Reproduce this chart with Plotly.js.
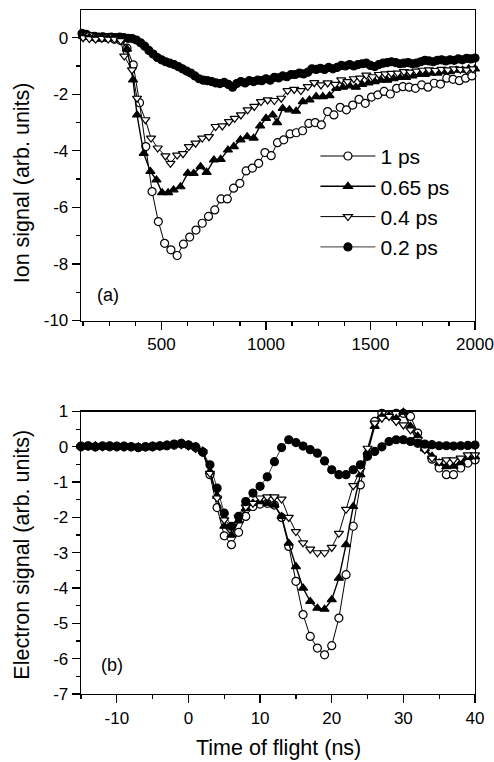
<!DOCTYPE html>
<html>
<head>
<meta charset="utf-8">
<script src="https://cdn.plot.ly/plotly-3.0.1.min.js"></script>
<style>html,body{margin:0;padding:0;background:#fff;}#chart{width:494px;height:762px;}</style>
</head>
<body>
<div id="chart"></div>
<script>
// ---------- Panel (a): ion signal vs time of flight ----------
const seriesNames = ["1 ps", "0.65 ps", "0.4 ps", "0.2 ps"];

const ionX_1ps = [125,155,185,215,245,275,305,335,365,395,425,455,485,515,545,575,605,635,665,695,725,755,785,815,845,875,905,935,965,995,1025,1055,1085,1115,1145,1175,1205,1235,1265,1295,1325,1355,1385,1415,1445,1475,1505,1535,1565,1595,1625,1655,1685,1715,1745,1775,1805,1835,1865,1895,1925,1955,1985];
const ionY_1ps = [0.05,0.05,0.0,0.0,0.0,-0.05,-0.1,-0.37,-0.96,-2.3,-3.85,-5.44,-6.5,-7.27,-7.5,-7.7,-7.3,-7.05,-6.8,-6.56,-6.32,-6.09,-5.7,-5.7,-5.32,-5.15,-4.71,-4.61,-4.44,-4.06,-4.17,-3.71,-3.61,-3.4,-3.36,-3.29,-3.03,-3.0,-3.08,-2.61,-2.73,-2.46,-2.55,-2.38,-2.18,-2.32,-2.1,-2.02,-1.9,-1.99,-1.79,-1.73,-1.75,-1.79,-1.67,-1.75,-1.61,-1.64,-1.43,-1.47,-1.52,-1.43,-1.35];

const ionX_065ps = [125,155,185,215,245,275,305,335,364,383,415,447,476,503,532,558,591,626,654,687,716,751,783,818,846,878,910,941,972,1000,1032,1053,1080,1112,1144,1176,1208,1240,1272,1304,1336,1368,1400,1430,1460,1490,1520,1550,1580,1610,1640,1670,1700,1730,1760,1790,1820,1850,1880,1910,1940,1970,2000];
const ionY_065ps = [0.05,0.02,0.0,0.02,0.0,-0.02,-0.05,-0.4,-1.49,-2.73,-4.09,-4.73,-5.03,-5.48,-5.48,-5.38,-5.27,-4.79,-4.8,-4.56,-4.76,-4.32,-4.3,-3.97,-3.85,-3.61,-3.5,-3.55,-3.12,-2.85,-2.73,-3.0,-2.5,-2.55,-2.6,-2.26,-2.2,-2.08,-2.08,-2.05,-1.79,-1.75,-1.7,-1.75,-1.65,-1.6,-1.55,-1.5,-1.5,-1.45,-1.4,-1.4,-1.35,-1.3,-1.3,-1.25,-1.25,-1.2,-1.2,-1.15,-1.15,-1.1,-1.1];

const ionX_04ps = [125,155,185,215,245,275,305,322,359,383,423,450,482,519,543,575,603,631,663,695,727,759,791,823,850,880,912,944,976,1008,1040,1073,1103,1135,1167,1200,1231,1263,1295,1330,1360,1390,1420,1450,1480,1510,1540,1570,1600,1630,1660,1690,1720,1750,1780,1810,1840,1870,1900,1930,1960,1990];
const ionY_04ps = [0.0,-0.03,-0.05,-0.02,-0.05,-0.05,-0.1,-0.65,-1.14,-2.14,-2.9,-3.55,-3.9,-4.18,-4.44,-4.15,-4.1,-3.85,-3.73,-3.55,-3.5,-3.14,-3.12,-2.97,-2.85,-2.73,-2.55,-2.43,-2.26,-2.2,-2.22,-2.14,-1.87,-1.83,-1.87,-1.73,-1.59,-1.67,-1.6,-1.65,-1.49,-1.55,-1.45,-1.43,-1.32,-1.38,-1.3,-1.28,-1.26,-1.25,-1.2,-1.22,-1.18,-1.15,-1.14,-1.16,-1.12,-1.14,-1.1,-1.12,-1.14,-1.1];

const ionX_02ps = [120,140,160,180,200,220,240,260,280,300,320,340,360,380,400,420,440,460,480,500,520,540,560,580,600,620,640,660,680,700,720,740,760,780,800,820,840,860,880,900,920,940,960,980,1000,1020,1040,1060,1080,1100,1120,1140,1160,1180,1200,1220,1240,1260,1280,1300,1320,1340,1360,1380,1400,1420,1440,1460,1480,1500,1520,1540,1560,1580,1600,1620,1640,1660,1680,1700,1720,1740,1760,1780,1800,1820,1840,1860,1880,1900,1920,1940,1960,1980,2000];
const ionY_02ps = [0.15,0.12,0.05,0.05,0.02,0.03,0.0,0.02,0.0,0.02,0.0,-0.02,-0.03,-0.08,-0.18,-0.3,-0.45,-0.58,-0.7,-0.78,-0.85,-0.9,-0.95,-1.02,-1.1,-1.18,-1.25,-1.35,-1.45,-1.5,-1.52,-1.55,-1.6,-1.62,-1.58,-1.65,-1.75,-1.62,-1.55,-1.6,-1.52,-1.55,-1.5,-1.52,-1.45,-1.5,-1.4,-1.42,-1.35,-1.38,-1.3,-1.3,-1.25,-1.28,-1.22,-1.1,-1.12,-1.08,-1.12,-1.05,-1.1,-1.05,-0.98,-1.0,-0.95,-1.0,-0.95,-0.92,-0.9,-0.98,-1.02,-0.95,-0.9,-0.88,-0.85,-0.88,-0.92,-0.9,-0.88,-0.92,-0.9,-0.85,-0.8,-0.82,-0.85,-0.8,-0.78,-0.82,-0.78,-0.8,-0.75,-0.78,-0.73,-0.75,-0.72];

// ---------- Panel (b): electron signal vs time of flight ----------
const elX = [-15,-14,-13,-12,-11,-10,-9,-8,-7,-6,-5,-4,-3,-2,-1,0,1,2,3,4,5,6,7,8,9,10,11,12,13,14,15,16,17,18,19,20,21,22,23,24,25,26,27,28,29,30,31,32,33,34,35,36,37,38,39,40];
const elY_1ps = [0.0,0.02,0.0,0.02,0.0,0.02,0.0,0.0,-0.02,0.0,0.0,0.02,0.03,0.05,0.08,0.05,-0.02,-0.15,-0.79,-1.72,-2.52,-2.77,-2.42,-1.97,-1.69,-1.62,-1.6,-1.65,-2.0,-2.82,-3.81,-4.75,-5.37,-5.7,-5.89,-5.63,-4.85,-3.62,-2.25,-1.08,-0.2,0.72,0.95,0.9,0.95,0.95,0.86,0.39,-0.05,-0.35,-0.6,-0.79,-0.79,-0.6,-0.46,-0.37];
const elY_065ps = [0.02,0.0,0.03,0.0,0.02,0.0,0.02,0.0,0.0,-0.02,0.02,0.0,0.05,0.06,0.1,0.05,0.0,-0.12,-0.7,-1.4,-2.25,-2.5,-2.1,-1.75,-1.6,-1.55,-1.6,-1.65,-1.97,-2.73,-3.39,-4.0,-4.38,-4.57,-4.6,-4.33,-3.72,-2.77,-1.69,-0.79,-0.15,0.58,0.86,0.88,0.8,0.98,0.58,0.3,-0.05,-0.27,-0.46,-0.56,-0.55,-0.45,-0.3,-0.28];
const elY_04ps = [0.0,0.02,0.0,0.0,0.02,0.0,0.0,0.02,0.0,0.0,0.0,0.02,0.03,0.05,0.06,0.02,-0.05,-0.15,-0.75,-1.45,-2.07,-2.25,-2.0,-1.7,-1.6,-1.45,-1.42,-1.42,-1.48,-2.0,-2.4,-2.72,-2.9,-3.0,-3.0,-2.85,-2.45,-1.77,-1.1,-0.65,-0.04,0.67,0.81,0.86,0.72,0.62,0.48,0.2,-0.08,-0.32,-0.42,-0.37,-0.37,-0.32,-0.23,-0.23];
const elY_02ps = [0.02,0.03,0.0,0.02,0.03,0.0,0.02,0.0,-0.02,0.0,0.02,0.03,0.05,0.08,0.1,0.05,0.0,-0.15,-0.51,-1.17,-1.88,-2.25,-1.97,-1.55,-1.31,-1.12,-0.85,-0.42,-0.02,0.2,0.12,0.02,-0.08,-0.18,-0.4,-0.65,-0.79,-0.79,-0.65,-0.51,-0.27,-0.13,0.0,0.15,0.2,0.2,0.15,0.1,0.08,0.06,0.03,0.03,0.02,0.03,0.04,0.05];

// ---------- tick labels (hyphen minus as in the original) ----------
const ionXTicks = [500, 1000, 1500, 2000];
const ionXTickText = ["500", "1000", "1500", "2000"];
const ionYTicks = [0, -2, -4, -6, -8, -10];
const ionYTickText = ["0", "-2", "-4", "-6", "-8", "-10"];
const elXTicks = [-10, 0, 10, 20, 30, 40];
const elXTickText = ["-10", "0", "10", "20", "30", "40"];
const elYTicks = [1, 0, -1, -2, -3, -4, -5, -6, -7];
const elYTickText = ["1", "0", "-1", "-2", "-3", "-4", "-5", "-6", "-7"];

const yTitleTop = "Ion signal (arb. units)";
const yTitleBottom = "Electron signal (arb. units)";
const xTitleBottom = "Time of flight (ns)";

// ---------- styles ----------
const FONT = "Liberation Sans, Arial, sans-serif";
const styles = [
  {symbol: "circle", color: "#ffffff", lw: 1.0},
  {symbol: "triangle-up", color: "#000000", lw: 1.4},
  {symbol: "triangle-down", color: "#ffffff", lw: 1.0},
  {symbol: "circle", color: "#000000", lw: 0.8}
];
function mk(x, y, i, xa, ya, legend) {
  return {
    x: x, y: y, xaxis: xa, yaxis: ya, type: "scatter", mode: "lines+markers",
    name: seriesNames[i], showlegend: legend, cliponaxis: false,
    line: {color: "#000", width: styles[i].lw},
    marker: {symbol: styles[i].symbol, size: 8, color: styles[i].color,
             line: {color: "#000", width: 1.2}}
  };
}
const data = [
  mk(ionX_02ps, ionY_02ps, 3, "x", "y", false),
  mk(ionX_1ps, ionY_1ps, 0, "x", "y", false),
  mk(ionX_065ps, ionY_065ps, 1, "x", "y", false),
  mk(ionX_04ps, ionY_04ps, 2, "x", "y", false),
  mk(elX, elY_1ps, 0, "x2", "y2", false),
  mk(elX, elY_065ps, 1, "x2", "y2", false),
  mk(elX, elY_04ps, 2, "x2", "y2", false),
  mk(elX, elY_02ps, 3, "x2", "y2", false)
];
// legend entries in the original order
[0, 1, 2, 3].forEach(function (i) {
  data.push(mk([null], [null], i, "x", "y", true));
});

const axBase = {
  showline: true, linecolor: "#000", linewidth: 1.3, mirror: true,
  ticks: "outside", ticklen: 8, tickwidth: 1.3, tickcolor: "#000",
  showgrid: false, zeroline: false, tickmode: "array",
  tickfont: {family: FONT, size: 17, color: "#000"}
};
function ax(extra) { return Object.assign({}, axBase, extra); }

const layout = {
  width: 494, height: 762,
  margin: {l: 81, r: 19, t: 10, b: 68},
  paper_bgcolor: "#fff", plot_bgcolor: "#fff",
  font: {family: FONT, color: "#000"},
  xaxis: ax({domain: [0, 1], anchor: "y", range: [115, 2000], tickvals: ionXTicks, ticktext: ionXTickText,
             minor: {tickmode: "linear", tick0: 0, dtick: 125, ticklen: 4, tickcolor: "#000", ticks: "outside"}}),
  yaxis: ax({domain: [0.546, 1], anchor: "x", range: [-10, 0.98], tickvals: ionYTicks, ticktext: ionYTickText,
             minor: {tickmode: "linear", tick0: 0, dtick: 1, ticklen: 4, tickcolor: "#000", ticks: "outside"}}),
  xaxis2: ax({domain: [0, 1], anchor: "y2", range: [-15, 40], tickvals: elXTicks, ticktext: elXTickText,
              minor: {tickmode: "linear", tick0: 0, dtick: 5, ticklen: 4, tickcolor: "#000", ticks: "outside"}}),
  yaxis2: ax({domain: [0, 0.413], anchor: "x2", range: [-7, 1], tickvals: elYTicks, ticktext: elYTickText,
              minor: {tickmode: "linear", tick0: 0, dtick: 0.5, ticklen: 4, tickcolor: "#000", ticks: "outside"}}),
  showlegend: true,
  legend: {x: 0.595, y: 0.816, xanchor: "left", yanchor: "top",
           bgcolor: "rgba(0,0,0,0)", font: {family: FONT, size: 21, color: "#000"},
           itemwidth: 55, tracegroupgap: 0},
  annotations: [
    {text: yTitleTop, xref: "paper", yref: "paper", x: -0.15, y: 0.748, textangle: -90,
     xanchor: "center", yanchor: "middle", showarrow: false, font: {family: FONT, size: 21.5}},
    {text: yTitleBottom, xref: "paper", yref: "paper", x: -0.15, y: 0.2036, textangle: -90,
     xanchor: "center", yanchor: "middle", showarrow: false, font: {family: FONT, size: 21.5}},
    {text: xTitleBottom, xref: "paper", yref: "paper", x: 0.5, y: -0.0785,
     xanchor: "center", yanchor: "middle", showarrow: false, font: {family: FONT, size: 21.5}},
    {text: "(a)", xref: "paper", yref: "paper", x: (108 - 81) / 393.7, y: (694.3 - 295) / 684.3,
     xanchor: "center", yanchor: "middle", showarrow: false, font: {family: FONT, size: 18}},
    {text: "(b)", xref: "paper", yref: "paper", x: (112 - 81) / 393.7, y: (694.3 - 665) / 684.3,
     xanchor: "center", yanchor: "middle", showarrow: false, font: {family: FONT, size: 18}}
  ]
};

Plotly.newPlot("chart", data, layout, {staticPlot: true, displayModeBar: false});
</script>
</body>
</html>
